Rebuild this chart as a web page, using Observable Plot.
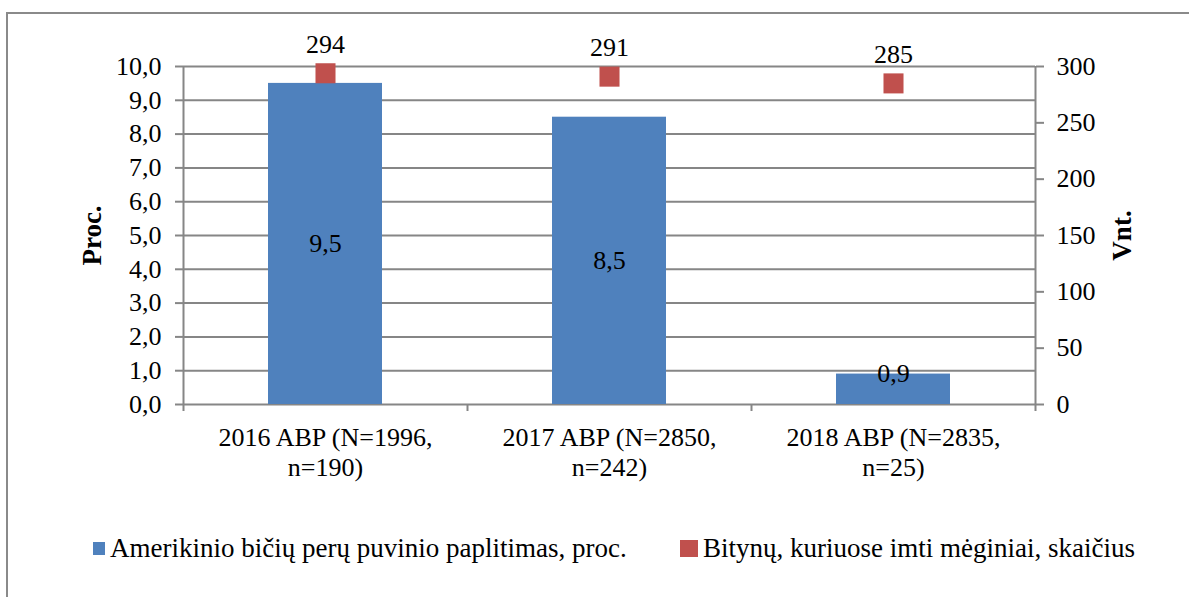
<!DOCTYPE html>
<html>
<head>
<meta charset="utf-8">
<script src="https://cdn.jsdelivr.net/npm/d3@7"></script>
<script src="https://cdn.jsdelivr.net/npm/@observablehq/plot@0.6"></script>
<style>
  html, body { margin: 0; padding: 0; background: #fff; overflow: hidden; }
  #wrap { position: relative; width: 1189px; height: 597px; overflow: hidden; font-family: "Liberation Serif", "Times New Roman", Times, "DejaVu Serif", serif; }
  #wrap svg, #wrap svg text { font-family: "Liberation Serif", "Times New Roman", Times, "DejaVu Serif", serif !important; }
  #border { position: absolute; left: 6px; top: 12px; width: 1300px; height: 700px; border: 2px solid #8a8a8a; box-sizing: border-box; }
  #chart { position: absolute; left: 0; top: 0; }
  #legend { position: absolute; left: 0; top: 530px; width: 1189px; height: 36px; font-size: 27px; color: #000; }
  .item { position: absolute; top: 0; height: 36px; display: flex; align-items: center; white-space: nowrap; }
  .sw { display: inline-block; margin-right: 5px; }
</style>
</head>
<body>
<div id="wrap">
  <div id="border"></div>
  <div id="chart"></div>
  <div id="legend"></div>
</div>
<script>
// ---- data ----
const categories = ["2016 ABP (N=1996,\nn=190)", "2017 ABP (N=2850,\nn=242)", "2018 ABP (N=2835,\nn=25)"];
const prevalence = [9.5, 8.5, 0.9];          // %, left axis
const apiaries = [294, 291, 285];            // count, right axis
const leftTicks = [0, 1, 2, 3, 4, 5, 6, 7, 8, 9, 10];
const rightTicks = [0, 50, 100, 150, 200, 250, 300];
const seriesNames = ["Amerikinio bičių perų puvinio paplitimas, proc.", "Bitynų, kuriuose imti mėginiai, skaičius"];
const seriesColors = ["#4F81BD", "#C0504D"];
const leftLabel = "Proc.";
const rightLabel = "Vnt.";

const rows = categories.map((c, i) => ({cat: c, pct: prevalence[i], n: apiaries[i]}));
const ratio = rightTicks[rightTicks.length - 1] / leftTicks[leftTicks.length - 1];

const W = 1189, H = 597;
const mL = 183, mR = 154, mT = 66, mB = 193;
const step = (W - mL - mR) / categories.length;
const grey = "#868686";
const fs = 26;
const font = "'Liberation Serif', 'Times New Roman', Times, 'DejaVu Serif', serif";
const comma = v => v.toFixed(1).replace(".", ",");

const chart = Plot.plot({
  width: W,
  height: H,
  marginLeft: mL,
  marginRight: mR,
  marginTop: mT,
  marginBottom: mB,
  style: {fontFamily: font, fontSize: fs + "px", background: "transparent", color: "#000"},
  x: {domain: categories, paddingInner: 0.6, paddingOuter: 0.3, align: 0.5},
  y: {domain: [0, leftTicks[leftTicks.length - 1]]},
  marks: [
    Plot.gridY(leftTicks, {stroke: grey, strokeOpacity: 1, strokeWidth: 2}),
    Plot.barY(rows, {x: "cat", y: "pct", fill: seriesColors[0]}),
    // axis lines and category boundary ticks
    Plot.ruleX([categories[0]], {x: d => d, dx: -step / 2, stroke: grey, strokeWidth: 2, insetBottom: -7}),
    Plot.ruleX([categories[categories.length - 1]], {x: d => d, dx: step / 2, stroke: grey, strokeWidth: 2, insetBottom: -7}),
    Plot.ruleX(categories.slice(1), {x: d => d, y1: 0, y2: 0, dx: -step / 2, stroke: grey, strokeWidth: 2, insetBottom: -7}),
    Plot.axisY({anchor: "left", ticks: leftTicks, tickFormat: comma, tickSize: 8, tickPadding: 14, stroke: grey, strokeWidth: 2, fill: "#000", fontSize: fs, label: null}),
    Plot.axisY({anchor: "right", ticks: rightTicks.map(t => t / ratio), tickFormat: t => String(Math.round(t * ratio)), tickSize: 8, tickPadding: 13, stroke: grey, strokeWidth: 2, fill: "#000", fontSize: fs, label: null}),
    Plot.axisX({tickSize: 0, tickPadding: 20, fill: "#000", fontSize: fs, lineHeight: 1.15, label: null}),
    Plot.dot(rows, {x: "cat", y: d => d.n / ratio, symbol: "square", r: 11.3, fill: seriesColors[1], stroke: "none"}),
    Plot.text(rows, {x: "cat", y: d => d.n / ratio, text: d => String(d.n), dy: -29, fontSize: fs, fill: "#000", lineAnchor: "middle"}),
    Plot.text(rows, {x: "cat", y: d => (d.pct / 2 < 1 ? d.pct : d.pct / 2), text: d => comma(d.pct), fontSize: fs, fill: "#000", lineAnchor: "middle"}),
    Plot.text([leftLabel], {frameAnchor: "left", dx: -91, rotate: -90, textAnchor: "middle", lineAnchor: "middle", fontSize: 27, fontWeight: "bold", fill: "#000"}),
    Plot.text([rightLabel], {frameAnchor: "right", dx: 87, rotate: -90, textAnchor: "middle", lineAnchor: "middle", fontSize: 27, fontWeight: "bold", fill: "#000"})
  ]
});
document.getElementById("chart").appendChild(chart);

// legend
const legend = document.getElementById("legend");
const legendPos = [{left: 93, sw: [12, 13]}, {left: 680, sw: [18, 17]}];
seriesNames.forEach((name, i) => {
  const item = document.createElement("div");
  item.className = "item";
  item.style.left = legendPos[i].left + "px";
  const sw = document.createElement("span");
  sw.className = "sw";
  sw.style.width = legendPos[i].sw[0] + "px";
  sw.style.height = legendPos[i].sw[1] + "px";
  sw.style.background = seriesColors[i];
  item.appendChild(sw);
  const t = document.createElement("span");
  t.textContent = name;
  item.appendChild(t);
  legend.appendChild(item);
});
</script>
</body>
</html>
